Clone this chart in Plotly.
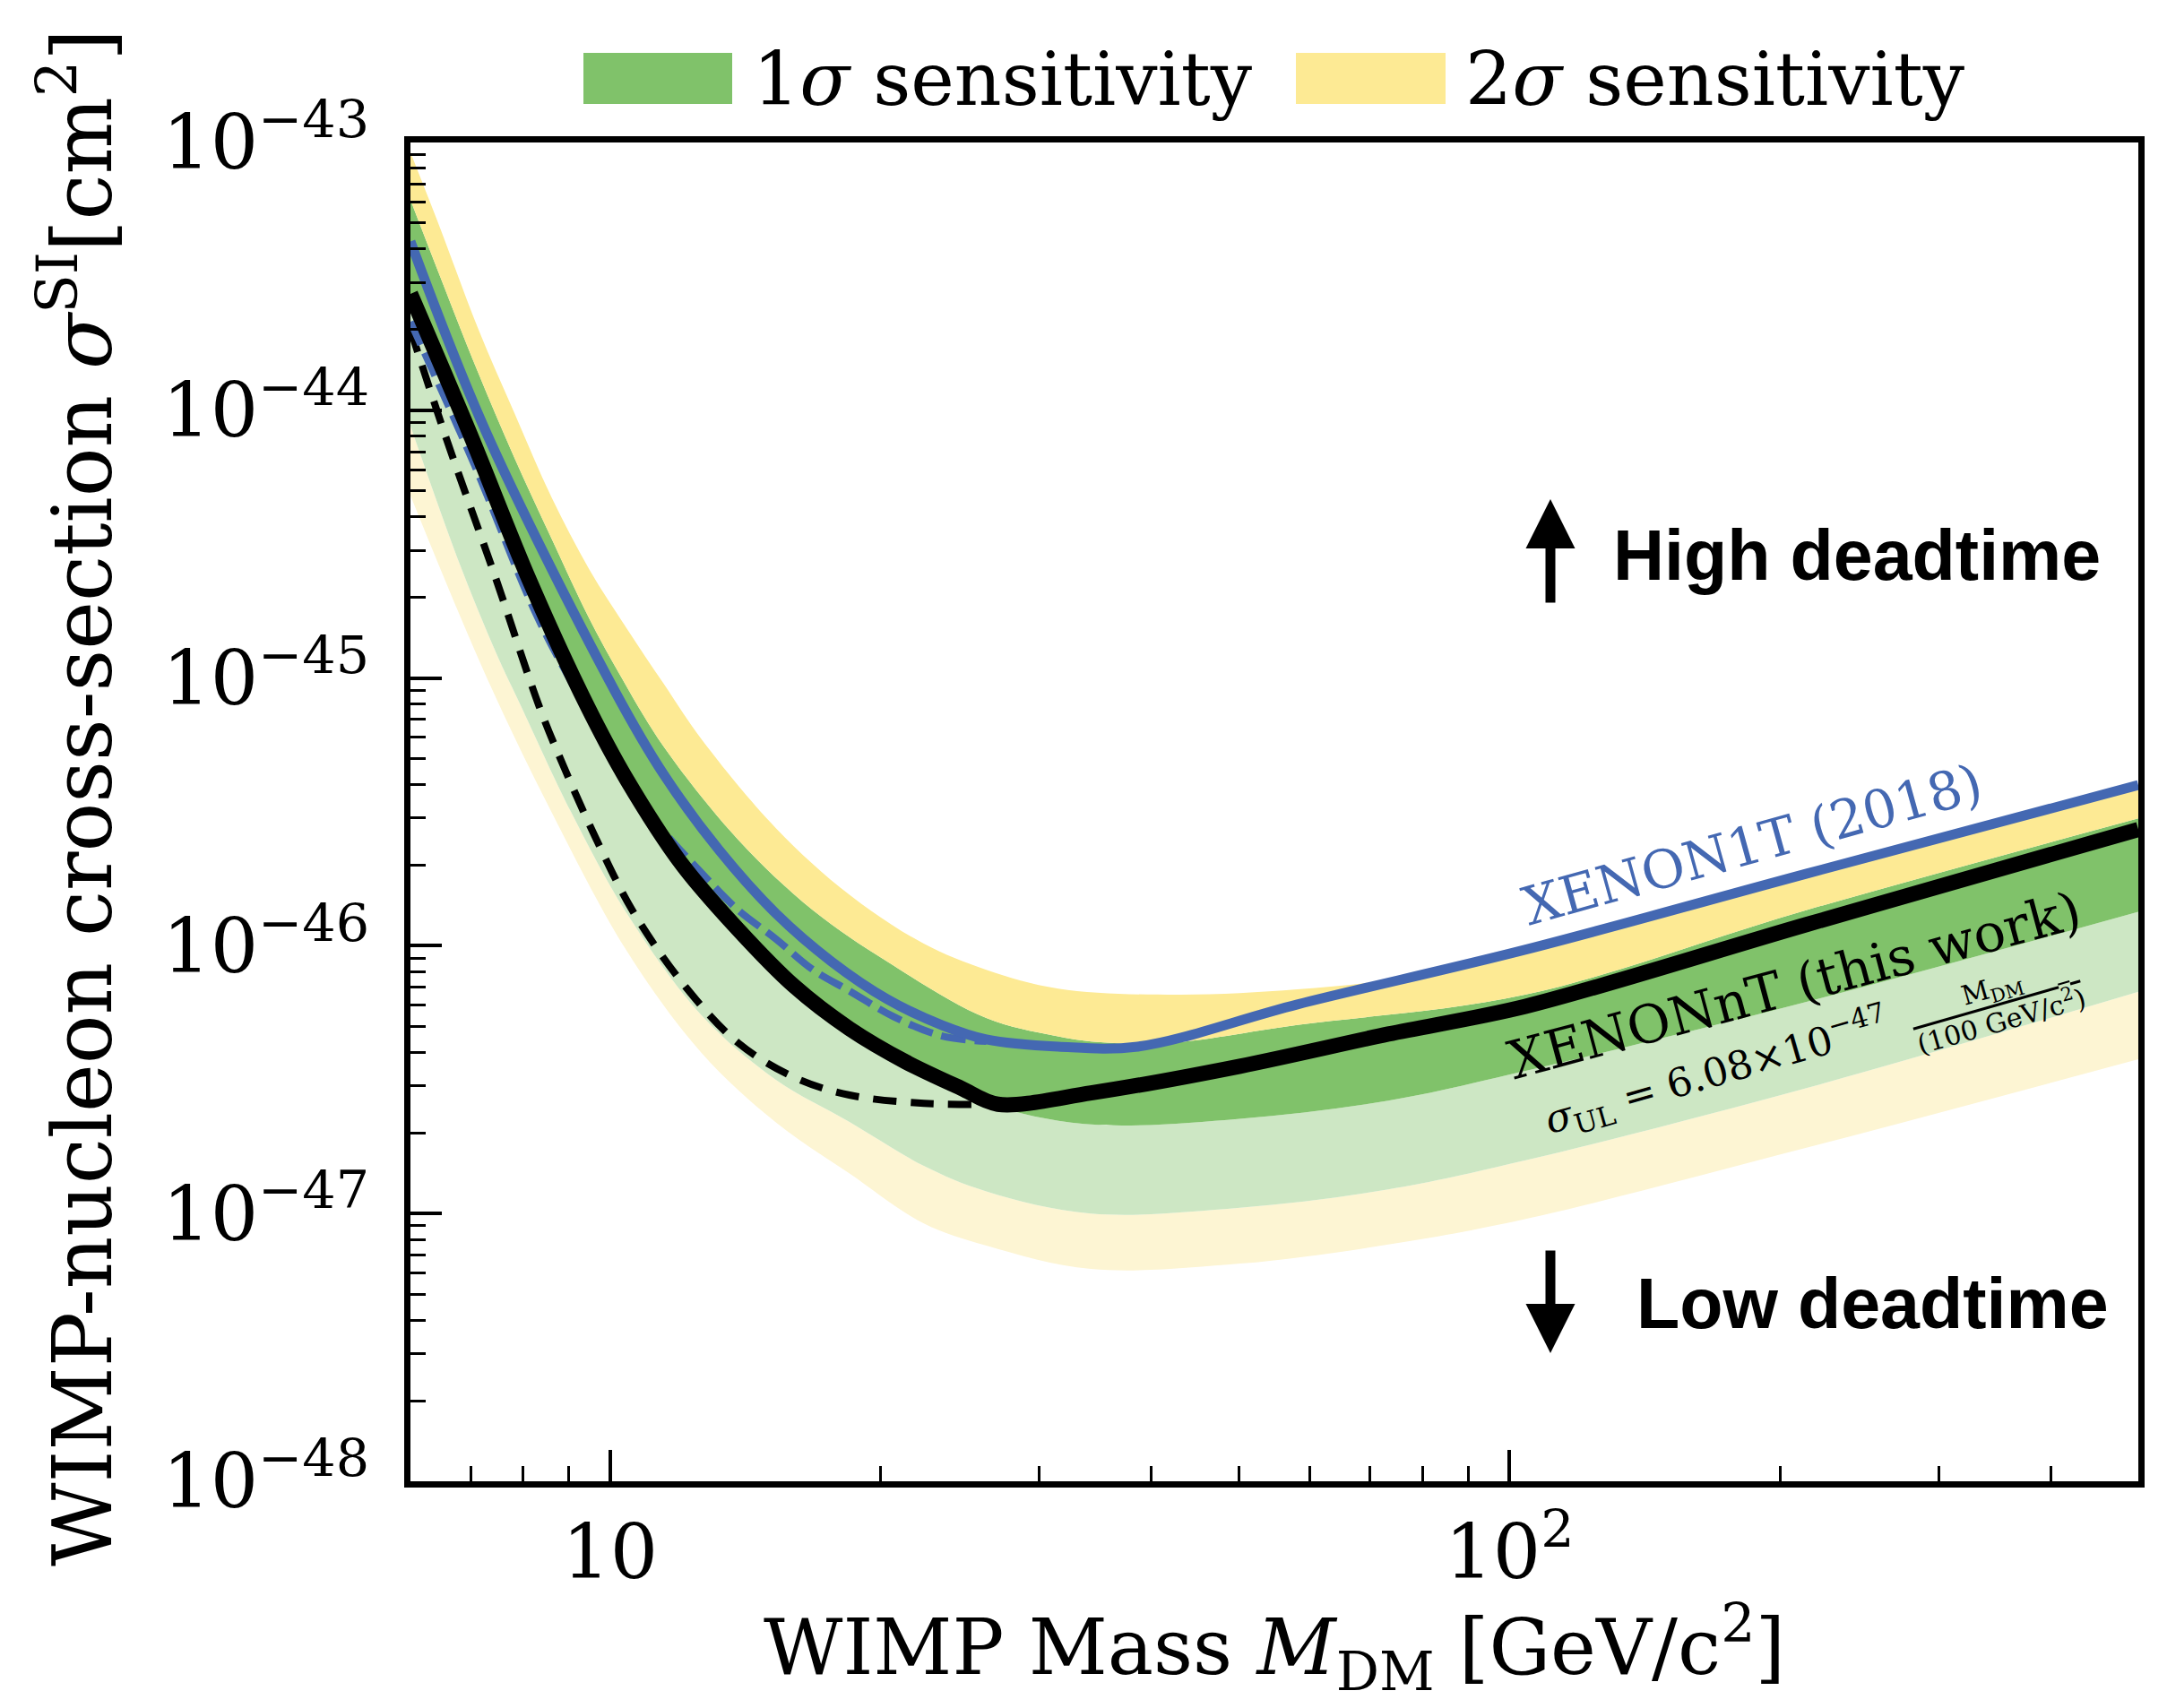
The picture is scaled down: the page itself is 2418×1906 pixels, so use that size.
import math
import plotly.graph_objects as go

# ---------------- data ----------------
# XENONnT (this work) limit, solid black
MASS_LIMIT = [6.0, 6.98, 8.13, 9.42, 10.44, 12.04, 13.88, 16.01, 18.46, 21.33, 24.55, 26.98,
              34.25, 50.15, 73.3, 104.2, 213.8, 500.0]
SIGMA_LIMIT = [2.72e-44, 8.24e-45, 2.33e-45, 7.94e-46, 4.17e-46, 2.00e-46, 1.15e-46, 7.08e-47,
               4.90e-47, 3.68e-47, 2.94e-47, 2.56e-47, 2.82e-47, 3.55e-47, 4.68e-47, 5.94e-47,
               1.20e-46, 2.72e-46]

# low-mass variant, dashed black
MASS_LIMIT_ALT = [6.0, 6.58, 7.45, 8.34, 8.87, 9.66, 10.64, 12.15, 13.88, 16.01, 18.46, 22.34, 26.98]
SIGMA_LIMIT_ALT = [2.00e-44, 7.80e-45, 2.40e-45, 7.85e-46, 4.72e-46, 2.49e-46, 1.32e-46, 6.98e-47,
                   4.34e-47, 3.23e-47, 2.77e-47, 2.58e-47, 2.56e-47]

# XENON1T (2018), solid blue
MASS_1T = [6.0, 7.28, 10.13, 11.47, 13.23, 15.29, 17.63, 20.33, 23.4, 26.2, 31.5, 38.6, 58.1,
           104.0, 214.0, 500.0]
SIGMA_1T = [4.27e-44, 8.30e-45, 8.91e-46, 4.37e-46, 2.27e-46, 1.32e-46, 8.73e-47, 6.32e-47,
            5.05e-47, 4.47e-47, 4.20e-47, 4.20e-47, 6.04e-47, 9.66e-47, 1.86e-46, 3.98e-46]

# XENON1T variant, dashed blue
MASS_1T_ALT = [6.0, 7.08, 8.32, 9.55, 10.96, 12.64, 13.88, 15.29, 16.8, 18.46, 20.7, 23.4, 26.2]
SIGMA_1T_ALT = [2.14e-44, 6.17e-45, 1.67e-45, 7.08e-46, 3.24e-46, 1.87e-46, 1.36e-46, 1.06e-46,
                8.15e-47, 6.78e-47, 5.42e-47, 4.60e-47, 4.40e-47]

# sensitivity band edges
MASS_2S_HI = [6.0, 6.47, 7.13, 7.83, 8.62, 9.48, 10.44, 11.47, 12.64, 15.29, 18.46, 22.3, 26.2,
              31.5, 42.7, 58.1, 75.2, 104.0, 214.0, 500.0]
SIGMA_2S_HI = [9.18e-44, 4.81e-44, 2.03e-44, 9.75e-45, 4.69e-45, 2.55e-45, 1.53e-45, 9.53e-46,
               5.90e-46, 2.75e-46, 1.55e-46, 1.02e-46, 8.13e-47, 6.92e-47, 6.56e-47, 6.87e-47,
               7.55e-47, 9.51e-47, 1.84e-46, 3.90e-46]

MASS_1S_HI = [6.0, 6.47, 7.13, 7.83, 8.62, 9.48, 10.22, 11.47, 13.88, 16.8, 20.33, 26.2, 31.1,
              34.8, 41.5, 58.1, 104.0, 214.0, 500.0]
SIGMA_1S_HI = [6.11e-44, 3.17e-44, 1.39e-44, 6.64e-45, 3.29e-45, 1.67e-45, 1.05e-45, 5.55e-46,
               2.49e-46, 1.36e-46, 8.73e-47, 5.37e-47, 4.62e-47, 4.37e-47, 4.32e-47, 5.06e-47,
               6.56e-47, 1.36e-46, 2.99e-46]

MASS_1S_LO = [6.0, 6.98, 8.13, 9.42, 10.44, 12.04, 13.88, 16.01, 18.46, 21.33, 24.55, 26.98,
              34.25, 50.15, 73.3, 104.2, 213.8, 500.0]
SIGMA_1S_LO = [2.72e-44, 8.24e-45, 2.33e-45, 7.94e-46, 4.17e-46, 2.00e-46, 1.15e-46, 7.08e-47,
               4.90e-47, 3.68e-47, 2.94e-47, 2.51e-47, 2.15e-47, 2.26e-47, 2.64e-47, 3.41e-47,
               6.17e-47, 1.34e-46]

MASS_1S_LO_ALT = [6.0, 6.79, 7.48, 7.95, 9.05, 10.44, 12.64, 15.29, 18.46, 22.3, 26.2, 34.25,
                  50.15, 73.3, 104.2, 213.8, 500.0]
SIGMA_1S_LO_ALT = [8.75e-45, 2.72e-45, 1.23e-45, 7.94e-46, 3.16e-46, 1.32e-46, 5.50e-47, 3.16e-47,
                   2.20e-47, 1.51e-47, 1.21e-47, 1.00e-47, 1.05e-47, 1.23e-47, 1.58e-47, 2.94e-47,
                   6.73e-47]

MASS_2S_LO_ALT = [6.0, 7.25, 8.63, 10.44, 12.64, 15.29, 18.46, 22.3, 26.2, 34.25, 50.15, 73.3,
                  104.2, 213.8, 500.0]
SIGMA_2S_LO_ALT = [4.80e-45, 1.05e-45, 3.11e-46, 9.55e-47, 3.98e-47, 2.19e-47, 1.41e-47, 9.20e-48,
                   7.59e-48, 6.21e-48, 6.50e-48, 7.66e-48, 9.55e-48, 1.76e-47, 3.77e-47]

X_RANGE = [6.0, 500.0]
Y_RANGE = [1e-48, 1e-43]
X_TICKS = [10, 100]
X_TICK_TEXT = ["10", "10<sup>2</sup>"]
Y_TICKS = [1e-48, 1e-47, 1e-46, 1e-45, 1e-44, 1e-43]
Y_TICK_TEXT = ["10<sup>\u221248</sup>", "10<sup>\u221247</sup>", "10<sup>\u221246</sup>",
               "10<sup>\u221245</sup>", "10<sup>\u221244</sup>", "10<sup>\u221243</sup>"]
X_MINOR = [7, 8, 9, 20, 30, 40, 50, 60, 70, 80, 90, 200, 300, 400]
Y_MINOR = [m * 10.0 ** e for e in range(-48, -43) for m in range(2, 10)]

LEGEND_LABELS = ["1<i>\u03c3</i> sensitivity", "2<i>\u03c3</i> sensitivity"]

# ---------------- styling ----------------
GREEN = "#80C26A"
YELLOW = "#FDEA94"
LIGHT_GREEN = "#CDE7C4"
LIGHT_YELLOW = "#FDF5D3"
BLUE = "#4468B2"
SERIF = "DejaVu Serif"
SANS = "Liberation Sans, Arial, sans-serif"

fig = go.Figure()


def edge(x, y, fill=None, color=None):
    fig.add_trace(go.Scatter(
        x=x, y=y, mode="lines",
        line=dict(width=0, shape="spline", smoothing=1.0),
        fill=fill, fillcolor=color, hoverinfo="skip", showlegend=False))


edge(MASS_2S_LO_ALT, SIGMA_2S_LO_ALT)
edge(MASS_1S_LO_ALT, SIGMA_1S_LO_ALT, "tonexty", LIGHT_YELLOW)
edge(MASS_1S_LO, SIGMA_1S_LO, "tonexty", LIGHT_GREEN)
edge(MASS_1S_HI, SIGMA_1S_HI, "tonexty", GREEN)
edge(MASS_2S_HI, SIGMA_2S_HI, "tonexty", YELLOW)

fig.add_trace(go.Scatter(x=MASS_LIMIT_ALT, y=SIGMA_LIMIT_ALT, mode="lines",
                         line=dict(color="black", width=8, dash="26px,16px", shape="spline", smoothing=1.0),
                         hoverinfo="skip", showlegend=False))
fig.add_trace(go.Scatter(x=MASS_1T_ALT, y=SIGMA_1T_ALT, mode="lines",
                         line=dict(color=BLUE, width=8, dash="28px,10px", shape="spline", smoothing=1.0),
                         hoverinfo="skip", showlegend=False))
fig.add_trace(go.Scatter(x=MASS_1T, y=SIGMA_1T, mode="lines",
                         line=dict(color=BLUE, width=11, shape="spline", smoothing=1.0),
                         hoverinfo="skip", showlegend=False))
fig.add_trace(go.Scatter(x=MASS_LIMIT, y=SIGMA_LIMIT, mode="lines",
                         line=dict(color="black", width=17, shape="spline", smoothing=0.9),
                         hoverinfo="skip", showlegend=False))

axis_common = dict(
    type="log", showline=True, linewidth=7, linecolor="black", mirror=True,
    showgrid=False, zeroline=False, ticks="inside", ticklen=35, tickwidth=4,
    tickcolor="black", tickmode="array",
    tickfont=dict(family=SERIF, size=84, color="black"),
)

fig.update_xaxes(
    **axis_common,
    range=[math.log10(X_RANGE[0]), math.log10(X_RANGE[1])],
    tickvals=X_TICKS, ticktext=X_TICK_TEXT, ticklabelstandoff=0,
    minor=dict(tickmode="array", tickvals=X_MINOR, ticks="inside", ticklen=17,
               tickwidth=3, tickcolor="black", showgrid=False),
)
fig.update_yaxes(
    **axis_common,
    range=[math.log10(Y_RANGE[0]), math.log10(Y_RANGE[1])],
    tickvals=Y_TICKS, ticktext=Y_TICK_TEXT, ticklabelstandoff=22,
    minor=dict(tickmode="array", tickvals=Y_MINOR, ticks="inside", ticklen=17,
               tickwidth=3, tickcolor="black", showgrid=False),
)

PL, PR, PT, PB = 458, 32, 159, 253
W, H = 2418, 1906
PW, PH = W - PL - PR, H - PT - PB


def px(x):
    return (x - PL) / PW


def py(y):
    return (H - PB - y) / PH


annotations = []
# axis titles
annotations.append(dict(x=0.5, y=py(1838), xref="paper", yref="paper", showarrow=False,
                        text="WIMP Mass <i>M</i><sub>DM</sub> [GeV/c<sup>2</sup>]",
                        font=dict(family=SERIF, size=86, color="black"),
                        xanchor="center", yanchor="middle"))
annotations.append(dict(x=px(86), y=py(890), xref="paper", yref="paper", showarrow=False,
                        text="WIMP-nucleon cross-section <i>\u03c3</i><sup>SI</sup>[cm<sup>2</sup>]",
                        textangle=-90, font=dict(family=SERIF, size=91, color="black"),
                        xanchor="center", yanchor="middle"))
# legend texts
annotations.append(dict(x=px(838), y=py(88), xref="paper", yref="paper", showarrow=False,
                        text=LEGEND_LABELS[0], font=dict(family=SERIF, size=82, color="black"),
                        xanchor="left", yanchor="middle"))
annotations.append(dict(x=px(1633), y=py(88), xref="paper", yref="paper", showarrow=False,
                        text=LEGEND_LABELS[1], font=dict(family=SERIF, size=82, color="black"),
                        xanchor="left", yanchor="middle"))
# curve labels
annotations.append(dict(x=px(1955), y=py(942), xref="paper", yref="paper", showarrow=False,
                        text="XENON1T (2018)", textangle=-15.5,
                        font=dict(family=SERIF, size=59, color=BLUE),
                        xanchor="center", yanchor="middle"))
annotations.append(dict(x=px(2002), y=py(1099), xref="paper", yref="paper", showarrow=False,
                        text="XENONnT (this work)", textangle=-15,
                        font=dict(family=SERIF, size=59, color="black"),
                        xanchor="center", yanchor="middle"))
annotations.append(dict(x=px(1915), y=py(1196), xref="paper", yref="paper", showarrow=False,
                        text="<i>\u03c3</i><sub>UL</sub> = 6.08\u00d710<sup>\u221247</sup>",
                        textangle=-16, font=dict(family=SERIF, size=44, color="black"),
                        xanchor="center", yanchor="middle"))
annotations.append(dict(x=px(2228), y=py(1121), xref="paper", yref="paper", showarrow=False,
                        text="M<sub>DM</sub><br><span style='text-decoration:overline'>(100 GeV/c<sup>2</sup>)</span>",
                        textangle=-16, font=dict(family=SERIF, size=30, color="black"),
                        xanchor="center", yanchor="middle"))
# deadtime labels
annotations.append(dict(x=px(2072), y=py(619), xref="paper", yref="paper", showarrow=False,
                        text="<b>High deadtime</b>", font=dict(family=SANS, size=79, color="black"),
                        xanchor="center", yanchor="middle"))
annotations.append(dict(x=px(2089), y=py(1454), xref="paper", yref="paper", showarrow=False,
                        text="<b>Low deadtime</b>", font=dict(family=SANS, size=79, color="black"),
                        xanchor="center", yanchor="middle"))
# arrows
annotations.append(dict(x=px(1730), y=py(557), xref="paper", yref="paper", text="",
                        showarrow=True, ax=0, ay=117, arrowhead=2, arrowsize=1,
                        arrowwidth=11, arrowcolor="black", standoff=0))
annotations.append(dict(x=px(1730), y=py(1510), xref="paper", yref="paper", text="",
                        showarrow=True, ax=0, ay=-116, arrowhead=2, arrowsize=1,
                        arrowwidth=11, arrowcolor="black", standoff=0))

shapes = [
    dict(type="rect", xref="paper", yref="paper", x0=px(651), x1=px(817), y0=py(116), y1=py(59),
         fillcolor=GREEN, line=dict(width=0)),
    dict(type="rect", xref="paper", yref="paper", x0=px(1446), x1=px(1613), y0=py(116), y1=py(59),
         fillcolor=YELLOW, line=dict(width=0)),
]

fig.update_layout(
    width=W, height=H,
    margin=dict(l=PL, r=PR, t=PT, b=PB),
    paper_bgcolor="white", plot_bgcolor="white",
    showlegend=False,
    annotations=annotations, shapes=shapes,
    font=dict(family=SERIF, color="black"),
)

fig.write_html("out.html", config={"displayModeBar": False},
               post_script="document.body.style.margin='0';document.body.style.overflow='hidden';")
